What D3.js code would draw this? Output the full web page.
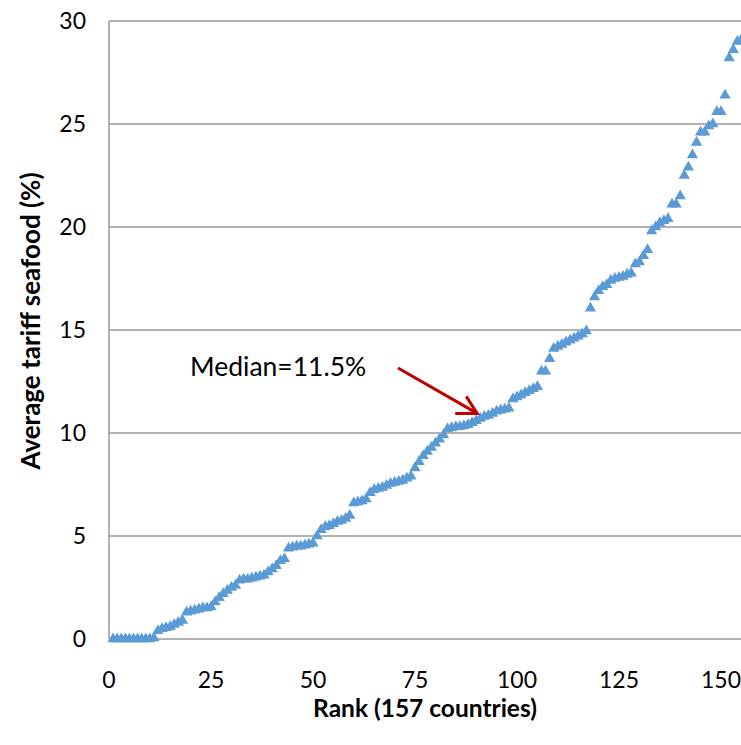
<!DOCTYPE html>
<html>
<head>
<meta charset="utf-8">
<script src="https://cdn.jsdelivr.net/npm/d3@7"></script>
<style>
  body { margin: 0; background: #fff; }
  svg { display: block; overflow: hidden; }
  text { font-family: Lato, "Open Sans", sans-serif; fill: #000; }
</style>
</head>
<body>
<div id="chart"></div>
<script>
// Average seafood tariff by country, sorted ascending (rank 1..155 visible)
var tariffs = [
    0, 0, 0, 0, 0, 0, 0, 0, 0, 0, 0.05,
    0.4, 0.5, 0.55, 0.6, 0.7, 0.8, 0.9,
    1.3, 1.35, 1.4, 1.45, 1.5, 1.5, 1.55,
    1.8, 2.0, 2.2, 2.35, 2.5, 2.6,
    2.85, 2.9, 2.9, 2.95, 3.0, 3.05, 3.1,
    3.25, 3.4, 3.55,
    3.8, 3.9,
    4.4, 4.45, 4.5, 4.5, 4.55, 4.6, 4.65,
    5.0, 5.3,
    5.45, 5.5, 5.6, 5.7, 5.75, 5.85, 6.0,
    6.6, 6.65, 6.7, 6.8,
    7.1, 7.25, 7.3, 7.35, 7.45,
    7.55, 7.6, 7.65, 7.7, 7.8, 7.9,
    8.3, 8.6, 8.9, 9.1, 9.3,
    9.5, 9.7, 9.9,
    10.2, 10.25, 10.3, 10.3, 10.35, 10.4, 10.5,
    10.6, 10.7, 10.8, 10.85, 10.95,
    11.05, 11.1, 11.15, 11.2,
    11.65, 11.75, 11.85, 11.95, 12.05, 12.15, 12.25,
    13.0, 13.0, 13.6,
    14.1, 14.2, 14.3, 14.4, 14.5, 14.6, 14.7, 14.8, 14.95,
    16.05, 16.6,
    16.9, 17.1, 17.2, 17.4, 17.5, 17.55,
    17.6, 17.7, 17.75, 18.2, 18.3, 18.6, 18.9, 19.8, 20.0, 20.2,
    20.3, 20.4, 21.1, 21.1, 21.5, 22.5, 22.9, 23.5, 24.1, 24.6,
    24.6, 24.9, 25.0, 25.6, 25.6, 26.4, 28.2, 28.6, 29.0, 29.1
];
var xTicks = [0, 25, 50, 75, 100, 125, 150, 175];
var yTicks = [0, 5, 10, 15, 20, 25, 30];
var medianLabel = "Median=11.5%";
var medianRank = 90;
var medianValue = 11.0;

var width = 741, height = 745;

var svg = d3.select("#chart").append("svg")
    .attr("width", width)
    .attr("height", height);

// x axis runs to 175 but the picture is cropped at the right edge
var x = d3.scaleLinear().domain([0, 175]).range([109, 109 + 7 * 102]);
var y = d3.scaleLinear().domain([0, 30]).range([639, 21]);

// gridlines
svg.append("g").selectAll("line")
    .data(yTicks.filter(function(d) { return d > 0; }))
    .enter().append("line")
    .attr("x1", x(0)).attr("x2", width)
    .attr("y1", function(d) { return y(d); })
    .attr("y2", function(d) { return y(d); })
    .attr("stroke", "#999").attr("stroke-width", 1.5);

// axis lines
svg.append("line")
    .attr("x1", x(0)).attr("x2", x(0))
    .attr("y1", y(30)).attr("y2", y(0))
    .attr("stroke", "#999").attr("stroke-width", 1.5);
svg.append("line")
    .attr("x1", x(0)).attr("x2", width)
    .attr("y1", y(0)).attr("y2", y(0))
    .attr("stroke", "#999").attr("stroke-width", 1.5);

// tick labels
svg.append("g").selectAll("text")
    .data(yTicks)
    .enter().append("text")
    .attr("x", 86)
    .attr("y", function(d) { return y(d) + 8; })
    .attr("text-anchor", "end")
    .style("font-size", "23px")
    .text(function(d) { return d; });

svg.append("g").selectAll("text")
    .data(xTicks)
    .enter().append("text")
    .attr("x", function(d) { return x(d); })
    .attr("y", 688)
    .attr("text-anchor", "middle")
    .style("font-size", "23px")
    .text(function(d) { return d; });

// axis titles
svg.append("text")
    .attr("x", 425).attr("y", 717)
    .attr("text-anchor", "middle")
    .style("font-size", "24.5px").style("font-weight", "bold")
    .text("Rank (157 countries)");

svg.append("text")
    .attr("transform", "translate(40,321) rotate(-90)")
    .attr("text-anchor", "middle")
    .style("font-size", "26px").style("font-weight", "bold")
    .text("Average tariff seafood (%)");

// points
svg.append("g").selectAll("path")
    .data(tariffs)
    .enter().append("path")
    .attr("transform", function(d, i) { return "translate(" + x(i + 1) + "," + y(d) + ")"; })
    .attr("d", d3.symbol().type(d3.symbolTriangle).size(55))
    .attr("fill", "#5B9BD5");

// median annotation
svg.append("text")
    .attr("x", 190).attr("y", 376)
    .style("font-size", "26.5px")
    .text(medianLabel);

var tipX = x(medianRank) + 1, tipY = y(medianValue) + 1;
var red = "#C00000";
svg.append("line")
    .attr("x1", 398).attr("y1", 368)
    .attr("x2", tipX).attr("y2", tipY)
    .attr("stroke", red).attr("stroke-width", 3);
svg.append("path")
    .attr("d", "M" + (tipX - 22) + "," + tipY + "L" + tipX + "," + tipY + "L" + (tipX - 11) + "," + (tipY - 17))
    .attr("fill", "none").attr("stroke", red).attr("stroke-width", 3);
</script>
</body>
</html>
